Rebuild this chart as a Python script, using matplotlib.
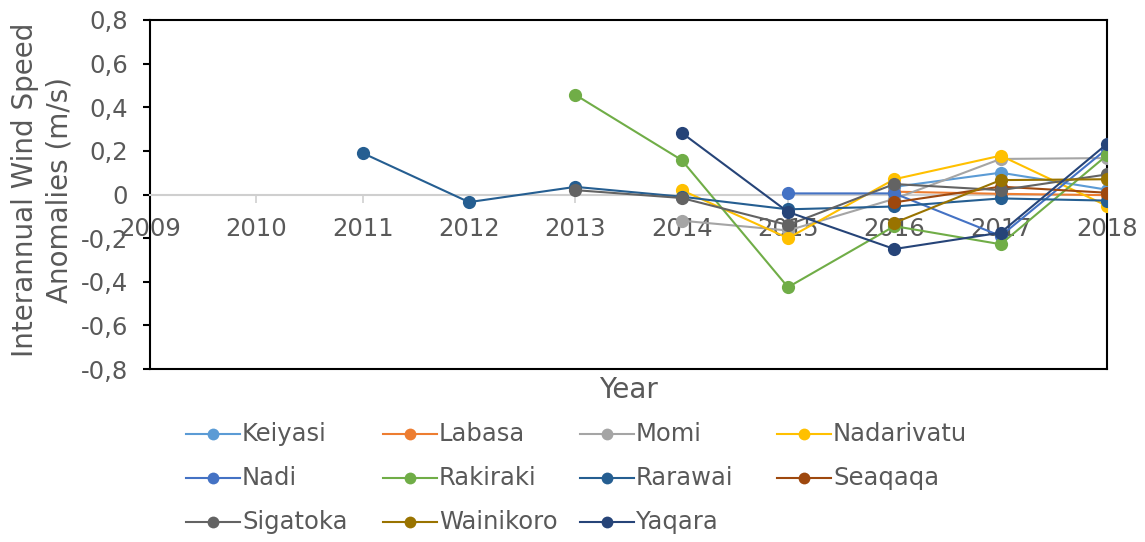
import matplotlib
matplotlib.use("Agg")
import matplotlib.pyplot as plt
from matplotlib.lines import Line2D
import numpy as np

years = [2009, 2010, 2011, 2012, 2013, 2014, 2015, 2016, 2017, 2018]

# values per station (None = no data)
keiyasi    = [None, None, None, None, None, None, None, 0.035, 0.100, 0.022]
labasa     = [None, None, None, None, None, None, None, 0.013, 0.003, -0.003]
momi       = [None, None, None, None, None, -0.120, -0.165, -0.020, 0.163, 0.167]
nadarivatu = [None, None, None, None, None, 0.020, -0.200, 0.070, 0.178, -0.052]
nadi       = [None, None, None, None, None, None, 0.005, 0.005, -0.190, 0.210]
rakiraki   = [None, None, None, None, 0.457, 0.158, -0.425, -0.145, -0.228, 0.180]
rarawai    = [None, None, 0.190, -0.035, 0.035, -0.010, -0.068, -0.055, -0.018, -0.028]
seaqaqa    = [None, None, None, None, None, None, None, -0.036, 0.036, 0.008]
sigatoka   = [None, None, None, None, 0.020, -0.016, -0.140, 0.048, 0.020, 0.092]
wainikoro  = [None, None, None, None, None, None, None, -0.130, 0.066, 0.070]
yaqara     = [None, None, None, None, None, 0.283, -0.080, -0.250, -0.175, 0.232]

names = ["Keiyasi", "Labasa", "Momi", "Nadarivatu", "Nadi", "Rakiraki",
         "Rarawai", "Seaqaqa", "Sigatoka", "Wainikoro", "Yaqara"]
series = [keiyasi, labasa, momi, nadarivatu, nadi, rakiraki,
          rarawai, seaqaqa, sigatoka, wainikoro, yaqara]
colors = ["#5B9BD5", "#ED7D31", "#A5A5A5", "#FFC000", "#4472C4", "#70AD47",
          "#255E91", "#9E480E", "#636363", "#997300", "#264478"]

yticks = [-0.8, -0.6, -0.4, -0.2, 0, 0.2, 0.4, 0.6, 0.8]
ytick_labels = ["-0,8", "-0,6", "-0,4", "-0,2", "0", "0,2", "0,4", "0,6", "0,8"]

FS = 17.5
FT = 20
TXT = "#595959"
plt.rcParams['font.family'] = ['DejaVu Sans']

fig = plt.figure(figsize=(11.45, 5.42), dpi=100)
W, H = 1145, 542
L, R, T, B = 150, 1107, 20, 369
ax = fig.add_axes([L / W, 1 - B / H, (R - L) / W, (B - T) / H])

x = np.arange(len(years))
for name, vals, c in zip(names, series, colors):
    v = np.array([np.nan if a is None else a for a in vals], dtype=float)
    m = ~np.isnan(v)
    ax.plot(x[m], v[m], color=c, lw=1.5, marker='o', markersize=9.5,
            markeredgewidth=0, zorder=3)

ax.set_xlim(0, len(years) - 1)
ax.set_ylim(-0.8, 0.8)
ax.set_yticks(yticks)
ax.set_yticklabels(ytick_labels)
ax.tick_params(axis='y', length=5, width=1.5, color='black', pad=11,
               labelsize=FS, labelcolor=TXT)
for s in ax.spines.values():
    s.set_color('black')
    s.set_linewidth(1.5)

# category axis crossing at zero
ax.spines['bottom'].set_position(('data', 0))
ax.spines['bottom'].set_color('#CFCFCF')
ax.set_xticks(x)
ax.set_xticklabels([str(y) for y in years])
ax.tick_params(axis='x', length=6, width=1.2, color='#CFCFCF', pad=10,
               labelsize=FS, labelcolor=TXT)
# bottom border of the plot area
ax.axhline(-0.8, color='black', lw=1.5, clip_on=False, zorder=5)

fig.text((L + R) / 2 / W, 1 - 390 / H, "Year", ha='center', va='center',
         fontsize=FT, color=TXT)
fig.text(42 / W, 1 - 190 / H, "Interannual Wind Speed\nAnomalies (m/s)",
         ha='center', va='center', rotation=90, fontsize=FT, color=TXT,
         multialignment='center', linespacing=1.3)

# legend (row-major, 4 columns)
col_x = [186, 383, 580, 777]
row_y = [434, 478, 522]
hl = 54
for i, (name, c) in enumerate(zip(names, colors)):
    r, k = divmod(i, 4)
    x0 = col_x[k]
    yy = 1 - row_y[r] / H
    fig.add_artist(Line2D([x0 / W, (x0 + hl) / W], [yy, yy], color=c, lw=1.5,
                          transform=fig.transFigure))
    fig.add_artist(Line2D([(x0 + hl / 2) / W], [yy], color=c, marker='o',
                          markersize=8.5, markeredgewidth=0,
                          transform=fig.transFigure))
    fig.text((x0 + hl + 2) / W, yy, name, ha='left', va='center',
             fontsize=FS, color=TXT)

fig.savefig("out.png", dpi=100)
